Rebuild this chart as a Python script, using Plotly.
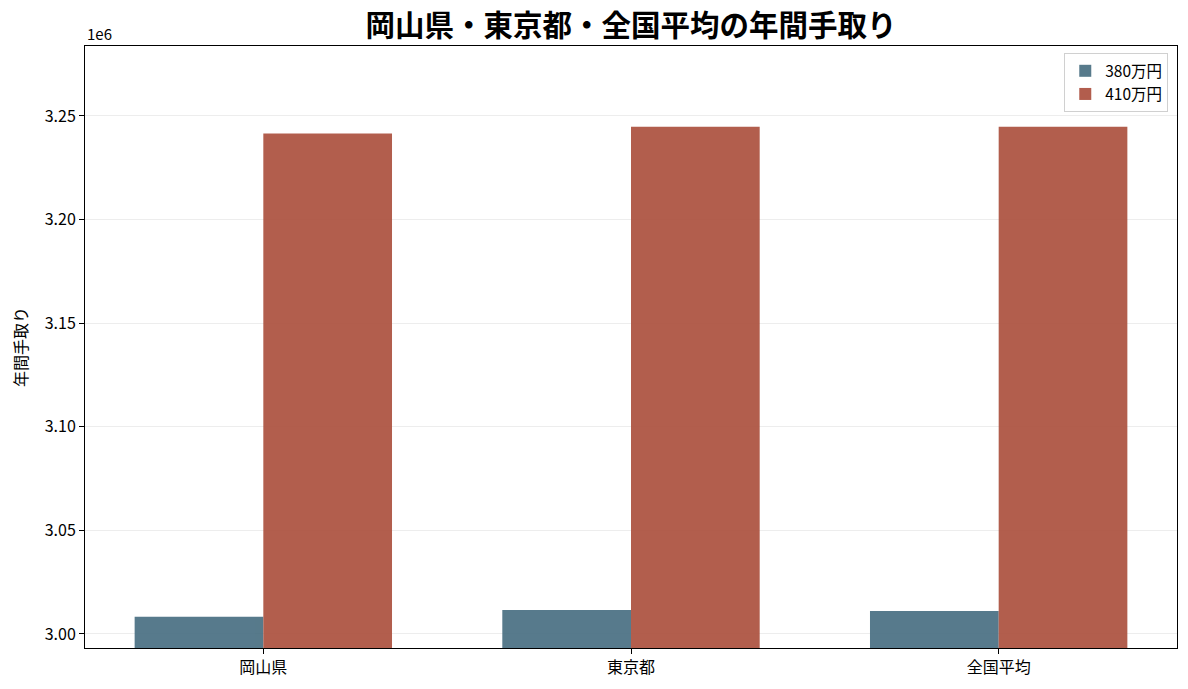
import plotly.graph_objects as go

# data
regions = ["岡山県", "東京都", "全国平均"]
income_380 = [3008350, 3011600, 3011100]
income_410 = [3241500, 3244800, 3244800]
series_names = ["380万円", "410万円"]
tick_vals = [3.00e6, 3.05e6, 3.10e6, 3.15e6, 3.20e6, 3.25e6]
tick_text = ["3.00", "3.05", "3.10", "3.15", "3.20", "3.25"]

font_jp = "Noto Sans CJK JP"

fig = go.Figure()
fig.add_trace(go.Bar(x=regions, y=income_380, name=series_names[0],
                     marker=dict(color="#456C7F", line=dict(width=0)),
                     opacity=0.9))
fig.add_trace(go.Bar(x=regions, y=income_410, name=series_names[1],
                     marker=dict(color="#AA4C3A", line=dict(width=0)),
                     opacity=0.9))

# the page body adds 8px on the left/top, margins compensate for it
fig.update_layout(
    width=1188, height=689,
    margin=dict(l=73, r=19, t=38, b=49),
    paper_bgcolor="white", plot_bgcolor="white",
    font=dict(family=font_jp, size=16, color="black"),
    barmode="group", bargap=0.3, bargroupgap=0,
    title=dict(text="<b>岡山県・東京都・全国平均の年間手取り</b>",
               x=0.5, xref="paper", y=0.974, yref="container",
               yanchor="middle", xanchor="center",
               font=dict(family=font_jp, size=29.5, color="black")),
    legend=dict(x=0.992, y=0.988, xanchor="right", yanchor="top",
                bgcolor="rgba(255,255,255,0.8)", bordercolor="#d0d0d0",
                borderwidth=1, font=dict(size=15.5)),
    showlegend=True,
)

fig.update_xaxes(range=[-0.485, 2.485], showline=True, linecolor="black",
                 linewidth=1, mirror=True, ticks="outside", ticklen=5,
                 tickcolor="black", showgrid=False,
                 tickfont=dict(size=16))
fig.update_yaxes(range=[2993240, 3283780], showline=True, linecolor="black",
                 linewidth=1, mirror=True, ticks="outside", ticklen=5,
                 tickcolor="black", tickvals=tick_vals, ticktext=tick_text,
                 showgrid=True, gridcolor="rgba(0,0,0,0.07)", gridwidth=1,
                 zeroline=False, tickfont=dict(size=16),
                 title=dict(text="年間手取り", font=dict(size=16), standoff=14))

fig.add_annotation(text="1e6", xref="paper", yref="paper", x=0, y=1,
                   xanchor="left", yanchor="bottom", showarrow=False,
                   font=dict(size=15), yshift=0)

fig.write_html("out.html")
